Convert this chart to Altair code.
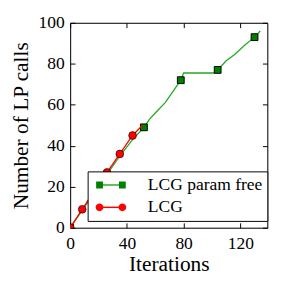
import altair as alt
import pandas as pd

# ---- data ----
series = ["LCG param free", "LCG"]
green_x = [0, 8, 17, 26, 35, 44, 52, 56, 60, 67, 73, 78, 80, 101, 104, 110, 116, 123, 130, 134]
green_y = [0, 8, 17, 26, 35, 43, 49, 53, 56, 61, 67, 72, 75.5, 75.5, 77, 81.5, 84.5, 89, 93, 96]
red_x = [0, 8.5, 17, 26, 35, 44, 51]
red_y = [0, 9, 18, 27, 36, 45, 50]
green_mx = [0, 26, 52, 78, 104, 130]
green_my = [0, 26, 49, 72, 77, 93]
red_mx = [0, 8.5, 17, 26, 35, 44]
red_my = [0, 9, 18, 27, 36, 45]
x_ticks = [0, 40, 80, 120]
y_ticks = [0, 20, 40, 60, 80, 100]
x_domain = [0, 139]
y_domain = [0, 100]

FONT = "Liberation Serif"
GREEN_LINE = "#22aa22"
GREEN = "#008000"
RED = "#ff0000"

g_line = pd.DataFrame({"x": green_x, "y": green_y, "series": series[0]})
r_line = pd.DataFrame({"x": red_x, "y": red_y, "series": series[1]})
g_mark = pd.DataFrame({"x": green_mx, "y": green_my, "series": series[0]})
r_mark = pd.DataFrame({"x": red_mx, "y": red_my, "series": series[1]})
legend_keys = [s + " " for s in series]
leg_df = pd.DataFrame({"x": [0, 0], "y": [0, 0], "key": legend_keys})

xs = alt.Scale(domain=x_domain, nice=False, zero=False)
ys = alt.Scale(domain=y_domain, nice=False, zero=False)


def ax(**kw):
    base = dict(
        domainColor="black", domainWidth=1, ticks=False, tickSize=0,
        grid=True, gridColor="black", gridWidth=1, gridDash=[5, 1000], gridOpacity=1,
        labelFont=FONT, labelFontSize=18, labelColor="black", labelFlush=False,
        titleFont=FONT, titleFontSize=22, titleColor="black", titleFontWeight="normal",
    )
    base.update(kw)
    return alt.Axis(**base)


x_bottom = ax(values=x_ticks, orient="bottom", labelPadding=7, title="Iterations", titlePadding=2)
y_left = ax(values=y_ticks, orient="left", labelPadding=6, title="Number of LP calls", titlePadding=6)
x_top = ax(values=x_ticks, orient="top", labels=False, title=None)
y_right = ax(values=y_ticks, orient="right", labels=False, title=None)

LEG_X, LEG_Y = 18, 153
common_leg = dict(
    title=None, orient="none", legendX=LEG_X, legendY=LEG_Y,
    symbolSize=100, padding=5, rowPadding=5, symbolOffset=10, labelOffset=29,
    labelFont=FONT, labelFontSize=18, labelColor="black", labelLimit=400,
)
line_legend = alt.Legend(
    symbolType="M-2.35,0L2.35,0", symbolStrokeWidth=1.5,
    fillColor="white", strokeColor="black", zindex=1, **common_leg,
)
marker_legend = alt.Legend(
    symbolStrokeColor="black", symbolStrokeWidth=0.8, labelOpacity=0,
    zindex=2, **common_leg,
)

stroke_scale = alt.Scale(domain=series, range=[GREEN_LINE, RED])

green_line = alt.Chart(g_line).mark_line(clip=True, strokeWidth=1.3).encode(
    x=alt.X("x:Q", scale=xs, axis=x_bottom),
    y=alt.Y("y:Q", scale=ys, axis=y_left),
    stroke=alt.Stroke("series:N", scale=stroke_scale, legend=line_legend),
)
red_line = alt.Chart(r_line).mark_line(clip=True, strokeWidth=1.3).encode(
    x=alt.X("x:Q", scale=xs, axis=None),
    y=alt.Y("y:Q", scale=ys, axis=None),
    stroke=alt.Stroke("series:N", scale=stroke_scale, legend=line_legend),
)
green_pts = alt.Chart(g_mark).mark_point(
    clip=True, shape="square", filled=True, size=49, fill=GREEN, stroke="black", strokeWidth=1, opacity=1
).encode(
    x=alt.X("x:Q", scale=xs, axis=x_top),
    y=alt.Y("y:Q", scale=ys, axis=y_right),
)
red_pts = alt.Chart(r_mark).mark_point(
    clip=True, shape="circle", filled=True, size=64, fill=RED, stroke="black", strokeWidth=0.6, opacity=1
).encode(
    x=alt.X("x:Q", scale=xs, axis=None),
    y=alt.Y("y:Q", scale=ys, axis=None),
)

SQ = "M-3.05,-0.7H-1.65V0.7H-3.05Z M1.65,-0.7H3.05V0.7H1.65Z"
CI = ("M-3.15,0A0.8,0.8 0 1,0 -1.55,0A0.8,0.8 0 1,0 -3.15,0Z "
      "M1.55,0A0.8,0.8 0 1,0 3.15,0A0.8,0.8 0 1,0 1.55,0Z")
legend_pts = alt.Chart(leg_df).transform_filter("false").mark_point(
    filled=True, size=100, stroke="black", strokeWidth=0.8, opacity=1
).encode(
    x=alt.X("x:Q", scale=xs, axis=None),
    y=alt.Y("y:Q", scale=ys, axis=None),
    fill=alt.Fill("key:N", scale=alt.Scale(domain=legend_keys, range=[GREEN, RED]), legend=marker_legend),
    shape=alt.Shape("key:N", scale=alt.Scale(domain=legend_keys, range=[SQ, CI]), legend=marker_legend),
)

chart = alt.layer(green_line, green_pts, red_line, red_pts, legend_pts).resolve_axis(
    x="independent", y="independent"
).properties(
    width=203, height=211,
    autosize=alt.AutoSizeParams(type="none"),
    padding={"left": 64, "top": 11, "right": 11, "bottom": 64},
).configure_view(stroke=None).configure(
    background="white", font=FONT
).configure_axis(
    labelFont=FONT, titleFont=FONT, labelFontSize=18, titleFontSize=22,
    labelColor="black", titleColor="black",
).configure_legend(labelFont=FONT, labelFontSize=18)

chart.save("out.html", embed_options={"renderer": "svg", "actions": False})
